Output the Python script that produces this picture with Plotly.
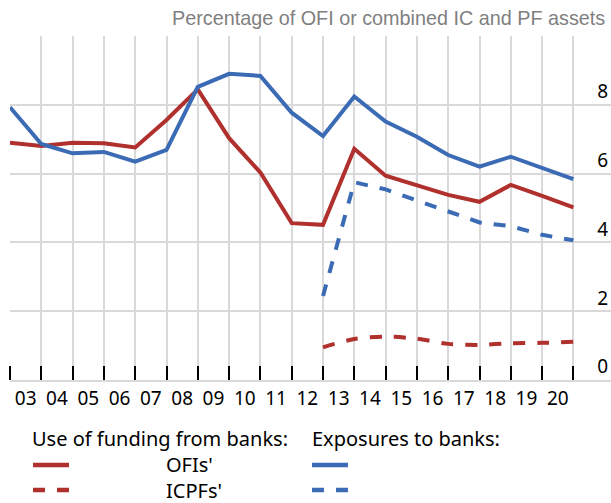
import plotly.graph_objects as go

# ---------------- data ----------------
years = list(range(2002, 2021))  # year-end observations
tick_years = [y + 0.5 for y in range(2002, 2020)]
tick_labels = ["03", "04", "05", "06", "07", "08", "09", "10", "11", "12",
               "13", "14", "15", "16", "17", "18", "19", "20"]

ofi_funding = [6.90, 6.80, 6.90, 6.88, 6.76, 7.56, 8.45, 7.03, 6.03, 4.56,
               4.51, 6.72, 5.94, 5.67, 5.38, 5.18, 5.67, 5.35, 5.02]
ofi_exposures = [7.93, 6.86, 6.59, 6.63, 6.35, 6.69, 8.52, 8.90, 8.84, 7.77,
                 7.09, 8.24, 7.51, 7.07, 6.54, 6.20, 6.49, 6.18, 5.84]
icpf_funding = [None] * 10 + [0.95, 1.19, 1.26, 1.20, 1.05, 1.02, 1.07, 1.08, 1.11]
icpf_exposures = [None] * 10 + [2.44, 5.75, 5.54, 5.23, 4.89, 4.58, 4.47, 4.22, 4.06]

y_ticks = [0, 2, 4, 6, 8, 10]
y_ticktext = ["0", "2", "4", "6", "8", ""]

RED = "#B0302E"
BLUE = "#3A6BB4"
GRID = "#D9D9D9"
FONT = "Noto Sans"

W, H = 611, 503
L, R, T, B = 10, 0, 36, 123
PW, PH = W - L - R, H - T - B


def px(xp):
    return (xp - L) / PW


def py(yp):
    return (H - B - yp) / PH


fig = go.Figure()
fig.add_trace(go.Scatter(x=years, y=ofi_funding, mode="lines",
                         line=dict(color=RED, width=4), showlegend=False))
fig.add_trace(go.Scatter(x=years, y=ofi_exposures, mode="lines",
                         line=dict(color=BLUE, width=4), showlegend=False))
fig.add_trace(go.Scatter(x=years, y=icpf_funding, mode="lines",
                         line=dict(color=RED, width=4, dash="12px,12px",
                                   shape="spline", smoothing=0.8),
                         showlegend=False))
fig.add_trace(go.Scatter(x=years, y=icpf_exposures, mode="lines",
                         line=dict(color=BLUE, width=4, dash="12px,12px"),
                         showlegend=False))

fig.update_layout(
    width=W, height=H,
    margin=dict(l=L, r=R, t=T, b=B, pad=0),
    paper_bgcolor="white", plot_bgcolor="white",
    font=dict(family=FONT, size=20, color="black"),
    xaxis=dict(
        range=[2002, 2002 + PW / 31.3],
        tickmode="array", tickvals=tick_years, ticktext=tick_labels,
        showgrid=False, zeroline=False,
        ticks="",
        showline=True, linecolor=GRID, linewidth=2,
        tickfont=dict(family=FONT, size=19, color="black"),
        minor=dict(tickmode="array", tickvals=years, ticks="inside",
                   ticklen=14, tickwidth=1.5, tickcolor="black",
                   showgrid=True, gridcolor=GRID, gridwidth=1.5),
    ),
    yaxis=dict(
        range=[0, 10], side="right",
        tickmode="array", tickvals=y_ticks, ticktext=y_ticktext,
        ticklabelposition="inside top",
        showgrid=True, gridcolor=GRID, gridwidth=1.5,
        zeroline=False, ticks="",
        tickfont=dict(family=FONT, size=19, color="black"),
    ),
)

annotations = [
    dict(text="Percentage of OFI or combined IC and PF assets",
         x=px(607), y=py(18), xanchor="right", yanchor="middle",
         font=dict(family="Liberation Sans", size=19.8, color="#7F7F7F")),
    dict(text="Use of funding from banks:", x=px(30), y=py(438),
         xanchor="left", yanchor="middle"),
    dict(text="Exposures to banks:", x=px(310), y=py(438),
         xanchor="left", yanchor="middle"),
    dict(text="OFIs'", x=px(164), y=py(464), xanchor="left", yanchor="middle"),
    dict(text="ICPFs'", x=px(164), y=py(490), xanchor="left", yanchor="middle"),
]
for a in annotations:
    a.update(xref="paper", yref="paper", showarrow=False)
fig.update_layout(annotations=annotations)

shapes = []
for x0, col in [(33, RED), (312, BLUE)]:
    shapes.append(dict(type="line", xref="paper", yref="paper",
                       x0=px(x0), x1=px(x0 + 36), y0=py(465), y1=py(465),
                       line=dict(color=col, width=4.5)))
    shapes.append(dict(type="line", xref="paper", yref="paper",
                       x0=px(x0), x1=px(x0 + 36), y0=py(490), y1=py(490),
                       line=dict(color=col, width=4.5, dash="12px,12px")))
fig.update_layout(shapes=shapes)

fig.write_html(
    "out.html",
    config={"displayModeBar": False},
    post_script="document.body.style.margin='0';document.body.style.overflow='hidden';",
)
